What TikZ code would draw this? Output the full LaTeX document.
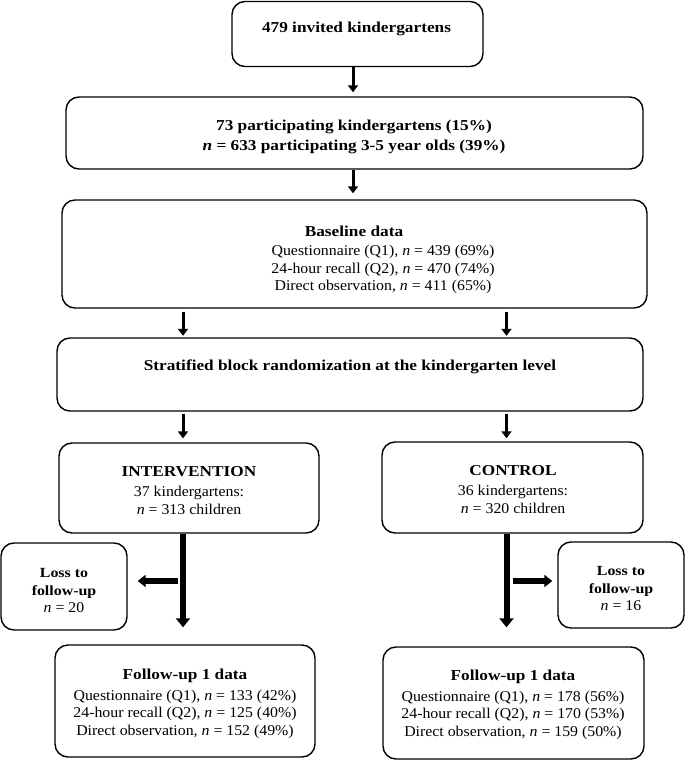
\documentclass[tikz,border=0pt]{standalone}
\usepackage{fontspec}
\setmainfont{Liberation Serif}[FakeStretch=1.06, BoldFeatures={FakeStretch=1.14}, BoldItalicFeatures={FakeStretch=1.14}]
\usetikzlibrary{arrows.meta}
\newcommand\rgf{\fontsize{15}{17.5}\selectfont}
\newcommand\bhf{\fontsize{15.2}{20.7}\selectfont\bfseries}
\newcommand\lbf{\fontsize{14}{17.5}\selectfont\bfseries}
\begin{document}
\begin{tikzpicture}[x=1bp,y=-1bp,
 box/.style={draw, line width=1.4bp, rounded corners=13bp, inner sep=0pt},
 txt/.style={inner sep=0pt, align=center, font=\rgf},
 arr/.style={line width=3bp, -{Triangle[width=10bp,length=7bp]}},
 fat/.style={line width=6bp, -{Triangle[width=14bp,length=9bp]}},
 side/.style={line width=5.5bp, -{Triangle[width=12bp,length=8bp]}}]
\useasboundingbox (0,0) rectangle (685,760);
% boxes
\node[box, minimum width=251bp, minimum height=65bp] (b1) at (357.5,34) {};
\node[box, minimum width=577bp, minimum height=72bp] (b2) at (354.5,133) {};
\node[box, minimum width=585bp, minimum height=108bp] (b3) at (354.5,254) {};
\node[box, minimum width=586bp, minimum height=73bp] (b4) at (350,374.5) {};
\node[box, minimum width=260bp, minimum height=90bp] (int) at (189,488) {};
\node[box, minimum width=261bp, minimum height=91bp] (ctl) at (512.5,487.5) {};
\node[box, minimum width=126bp, minimum height=87bp] (lossL) at (64,586.5) {};
\node[box, minimum width=126bp, minimum height=86bp] (lossR) at (621,585) {};
\node[box, minimum width=260bp, minimum height=112bp] (fuL) at (185,701) {};
\node[box, minimum width=261bp, minimum height=112bp] (fuR) at (513.5,703) {};
% texts
\node[txt, font=\bhf] (t1) at (356.5,29) {479 invited kindergartens};
\node[txt, font=\bhf] (t2) at (354,137) {73 participating kindergartens (15\%)\\\textit{n} = 633 participating 3-5 year olds (39\%)};
\node[txt, font=\bhf] (t3a) at (354,231) {Baseline data};
\node[txt] (t3b) at (383,269.5) {Questionnaire (Q1), \textit{n} = 439 (69\%)\\24-hour recall (Q2), \textit{n} = 470 (74\%)\\Direct observation, \textit{n} = 411 (65\%)};
\node[txt, font=\bhf] (t4) at (350,367) {Stratified block randomization at the kindergarten level};
\node[txt] (tI) at (189,490.5) {{\bhf INTERVENTION}\\[2.5bp]37 kindergartens:\\\textit{n} = 313 children};
\node[txt] (tC) at (513,489.5) {{\bhf CONTROL}\\[2.5bp]36 kindergartens:\\\textit{n} = 320 children};
\node[txt] (tLL) at (64,590.5) {{\lbf Loss to}\\[0.5bp]{\lbf follow-up}\\\textit{n} = 20};
\node[txt] (tLR) at (621,588.5) {{\lbf Loss to}\\[0.5bp]{\lbf follow-up}\\\textit{n} = 16};
\node[txt] (tFL) at (185,703.5) {{\bhf Follow-up 1 data}\\[4bp]Questionnaire (Q1), \textit{n} = 133 (42\%)\\24-hour recall (Q2), \textit{n} = 125 (40\%)\\Direct observation, \textit{n} = 152 (49\%)};
\node[txt] (tFR) at (513,704.5) {{\bhf Follow-up 1 data}\\[4bp]Questionnaire (Q1), \textit{n} = 178 (56\%)\\24-hour recall (Q2), \textit{n} = 170 (53\%)\\Direct observation, \textit{n} = 159 (50\%)};
% connectors
\coordinate (xm) at (353,0);
\coordinate (xl) at (183,0);
\coordinate (xr) at (506.5,0);
\draw[arr, shorten >=4bp] (xm |- b1.south) -- (xm |- b2.north);
\draw[arr, shorten >=6bp] (xm |- b2.south) -- (xm |- b3.north);
\draw[arr, shorten <=3bp, shorten >=1.5bp] (xl |- b3.south) -- (xl |- b4.north);
\draw[arr, shorten <=3bp, shorten >=1.5bp] (xr |- b3.south) -- (xr |- b4.north);
\draw[arr, shorten <=2bp, shorten >=4bp] (xl |- b4.south) -- (xl |- int.north);
\draw[arr, shorten <=2bp, shorten >=3bp] (xr |- b4.south) -- (xr |- ctl.north);
\draw[fat, shorten >=17bp] (xl |- int.south) -- (xl |- fuL.north);
\draw[fat, shorten >=19bp] (xr |- ctl.south) -- (xr |- fuR.north);
\coordinate (jl) at (183,581);
\coordinate (jr) at (506.5,581);
\draw[side, shorten <=5bp, shorten >=10bp] (jl) -- (jl -| lossL.east);
\draw[side, shorten <=6bp, shorten >=5bp] (jr) -- (jr -| lossR.west);
\end{tikzpicture}
\end{document}
